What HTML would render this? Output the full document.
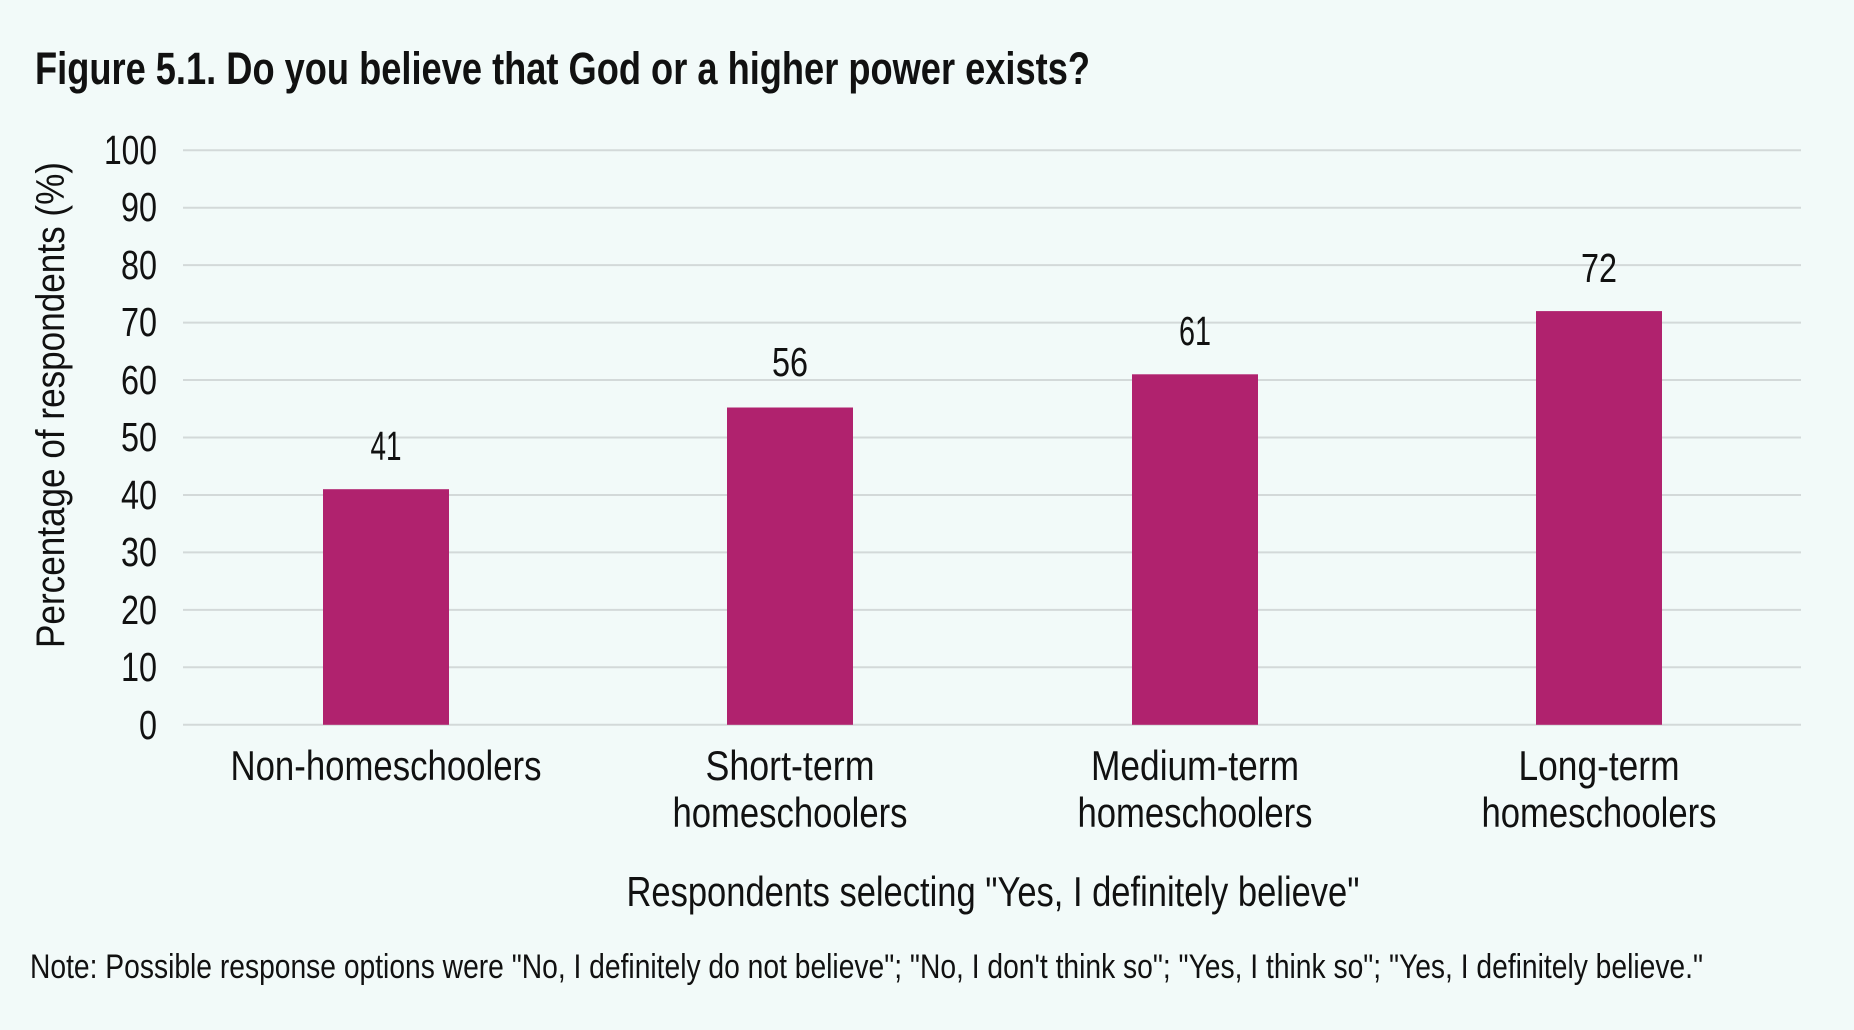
<!DOCTYPE html>
<html><head><style>
html,body{margin:0;padding:0;background:#f2faf9;}
svg{display:block;}
text{font-family:"Liberation Sans",sans-serif;fill:#111;}
</style></head><body>
<svg width="1854" height="1030" viewBox="0 0 1854 1030" xmlns="http://www.w3.org/2000/svg">
<rect width="1854" height="1030" fill="#f2faf9"/>
<text x="35" y="84" font-size="45" font-weight="bold" textLength="1055" lengthAdjust="spacingAndGlyphs">Figure 5.1. Do you believe that God or a higher power exists?</text>
<g stroke="#d3d9d9" stroke-width="2">
<line x1="183" x2="1801" y1="150.2" y2="150.2"/>
<line x1="183" x2="1801" y1="207.7" y2="207.7"/>
<line x1="183" x2="1801" y1="265.1" y2="265.1"/>
<line x1="183" x2="1801" y1="322.6" y2="322.6"/>
<line x1="183" x2="1801" y1="380.0" y2="380.0"/>
<line x1="183" x2="1801" y1="437.5" y2="437.5"/>
<line x1="183" x2="1801" y1="495.0" y2="495.0"/>
<line x1="183" x2="1801" y1="552.4" y2="552.4"/>
<line x1="183" x2="1801" y1="609.9" y2="609.9"/>
<line x1="183" x2="1801" y1="667.3" y2="667.3"/>
<line x1="183" x2="1801" y1="724.8" y2="724.8"/>
</g>
<g font-size="41" text-anchor="end">
<text x="157" y="164" textLength="53" lengthAdjust="spacingAndGlyphs">100</text>
<text x="157" y="221" textLength="36" lengthAdjust="spacingAndGlyphs">90</text>
<text x="157" y="279" textLength="36" lengthAdjust="spacingAndGlyphs">80</text>
<text x="157" y="336" textLength="36" lengthAdjust="spacingAndGlyphs">70</text>
<text x="157" y="394" textLength="36" lengthAdjust="spacingAndGlyphs">60</text>
<text x="157" y="451" textLength="36" lengthAdjust="spacingAndGlyphs">50</text>
<text x="157" y="509" textLength="36" lengthAdjust="spacingAndGlyphs">40</text>
<text x="157" y="566" textLength="36" lengthAdjust="spacingAndGlyphs">30</text>
<text x="157" y="624" textLength="36" lengthAdjust="spacingAndGlyphs">20</text>
<text x="157" y="681" textLength="36" lengthAdjust="spacingAndGlyphs">10</text>
<text x="157" y="739" textLength="18" lengthAdjust="spacingAndGlyphs">0</text>
</g>
<text transform="translate(64,405) rotate(-90)" font-size="40" text-anchor="middle" textLength="486" lengthAdjust="spacingAndGlyphs">Percentage of respondents (%)</text>
<g fill="#b0226e">
<rect x="323" y="489.2" width="126" height="235.6"/>
<rect x="727" y="407.5" width="126" height="317.3"/>
<rect x="1132" y="374.3" width="126" height="350.5"/>
<rect x="1536" y="311.1" width="126" height="413.7"/>
</g>
<g font-size="41" text-anchor="middle">
<text x="386" y="460" textLength="31" lengthAdjust="spacingAndGlyphs">41</text>
<text x="790" y="376" textLength="36" lengthAdjust="spacingAndGlyphs">56</text>
<text x="1195" y="345" textLength="32" lengthAdjust="spacingAndGlyphs">61</text>
<text x="1599" y="282" textLength="36" lengthAdjust="spacingAndGlyphs">72</text>
</g>
<g font-size="42" text-anchor="middle">
<text x="386" y="780" textLength="311" lengthAdjust="spacingAndGlyphs">Non-homeschoolers</text>
<text x="790" y="780" textLength="169" lengthAdjust="spacingAndGlyphs">Short-term</text>
<text x="790" y="827" textLength="235" lengthAdjust="spacingAndGlyphs">homeschoolers</text>
<text x="1195" y="780" textLength="208" lengthAdjust="spacingAndGlyphs">Medium-term</text>
<text x="1195" y="827" textLength="235" lengthAdjust="spacingAndGlyphs">homeschoolers</text>
<text x="1599" y="780" textLength="161" lengthAdjust="spacingAndGlyphs">Long-term</text>
<text x="1599" y="827" textLength="235" lengthAdjust="spacingAndGlyphs">homeschoolers</text>
<text x="993" y="906" textLength="733" lengthAdjust="spacingAndGlyphs">Respondents selecting "Yes, I definitely believe"</text>
</g>
<text x="30" y="978" font-size="34" textLength="1673" lengthAdjust="spacingAndGlyphs">Note: Possible response options were "No, I definitely do not believe"; "No, I don't think so"; "Yes, I think so"; "Yes, I definitely believe."</text>
</svg>
</body></html>
